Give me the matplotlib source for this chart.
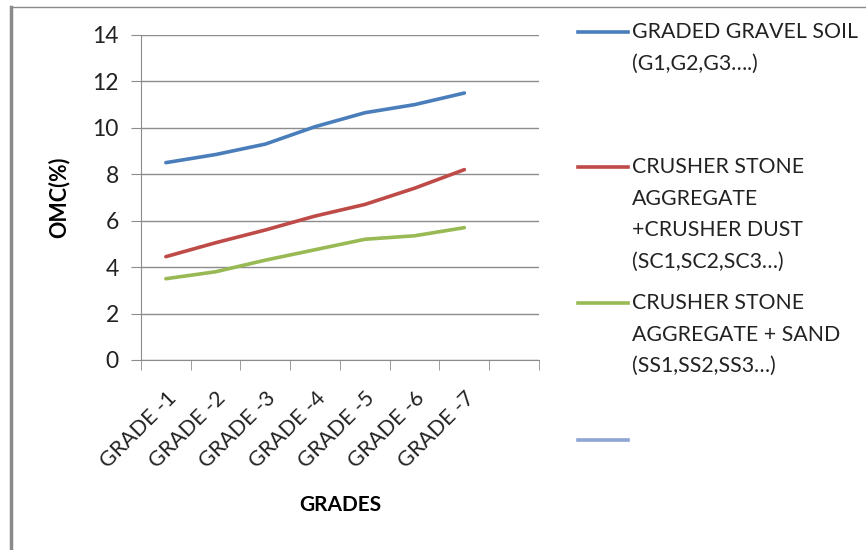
import matplotlib
matplotlib.use("Agg")
import matplotlib.pyplot as plt
import matplotlib.transforms as mtransforms
from matplotlib.lines import Line2D
from matplotlib.ticker import MultipleLocator, FixedLocator

plt.rcParams['font.family'] = ['Lato', 'DejaVu Sans']

# Data
grades = ["GRADE -1", "GRADE -2", "GRADE -3", "GRADE -4",
          "GRADE -5", "GRADE -6", "GRADE -7", ""]
gravel_soil = [8.5, 8.85, 9.3, 10.05, 10.65, 11.0, 11.5]
stone_dust = [4.45, 5.05, 5.6, 6.2, 6.7, 7.4, 8.2]
stone_sand = [3.5, 3.8, 4.3, 4.75, 5.2, 5.35, 5.7]

series_labels = [
    "GRADED GRAVEL SOIL\n(G1,G2,G3….)",
    "CRUSHER STONE\nAGGREGATE\n+CRUSHER DUST\n(SC1,SC2,SC3…)",
    "CRUSHER STONE\nAGGREGATE + SAND\n(SS1,SS2,SS3…)",
    "",
]
colors = ["#4A7EBB", "#BE4B48", "#98B954", "#8EA5D6"]

fig = plt.figure(figsize=(8.66, 5.5), dpi=100)
ax = fig.add_axes([0.1628, 0.3455, 0.4596, 0.5909])

x = list(range(len(gravel_soil)))
for vals, c in zip([gravel_soil, stone_dust, stone_sand], colors):
    ax.plot(x, vals, color=c, lw=2.6, solid_capstyle="round")

ax.set_xlim(-0.5, len(grades) - 0.5)
ax.set_ylim(0, 14)
ax.yaxis.set_major_locator(MultipleLocator(2))
ax.grid(axis="y", color="#8c8c8c", lw=1)
ax.set_axisbelow(True)

# category labels centred, tick marks between categories
ax.set_xticks(range(len(grades)))
ax.set_xticklabels(grades, rotation=45, ha="right", rotation_mode="anchor",
                   fontsize=15.5, color="#222222")
shift = mtransforms.ScaledTranslation(-6 / 100, -2 / 100, fig.dpi_scale_trans)
for lbl in ax.get_xticklabels():
    lbl.set_transform(lbl.get_transform() + shift)
ax.xaxis.set_minor_locator(FixedLocator([i - 0.5 for i in range(len(grades) + 1)]))
ax.tick_params(axis="x", which="major", length=0, pad=20)
ax.tick_params(axis="x", which="minor", length=7, color="#8c8c8c")
ax.tick_params(axis="y", length=7, color="#8c8c8c", labelsize=16.5, pad=9,
               labelcolor="#222222")

for side in ["top", "right"]:
    ax.spines[side].set_visible(False)
for side in ["left", "bottom"]:
    ax.spines[side].set_color("#8c8c8c")

ax.set_xlabel("GRADES", fontsize=15, fontweight="bold", labelpad=17)
ax.set_ylabel("OMC(%)", fontsize=15.5, fontweight="bold", labelpad=16)

# legend drawn entry by entry, handle beside the first text line
legend_y = [32, 167, 303, 440]
for lab, c, yp in zip(series_labels, colors, legend_y):
    yf = 1 - yp / 550
    fig.add_artist(Line2D([578 / 866, 628 / 866], [yf, yf], color=c, lw=2.6))
    if lab:
        fig.text(632 / 866, 1 - (yp - 10) / 550, lab, fontsize=15.3,
                 va="top", ha="left", color="#222222", linespacing=1.72)

# outer frame
fig.add_artist(Line2D([11 / 866, 11 / 866], [0, 1 - 7 / 550], color="#8a8a8a", lw=2.5))
fig.add_artist(Line2D([11 / 866, 1], [1 - 7 / 550, 1 - 7 / 550], color="#8a8a8a", lw=1))

fig.savefig("out.png", dpi=100)
